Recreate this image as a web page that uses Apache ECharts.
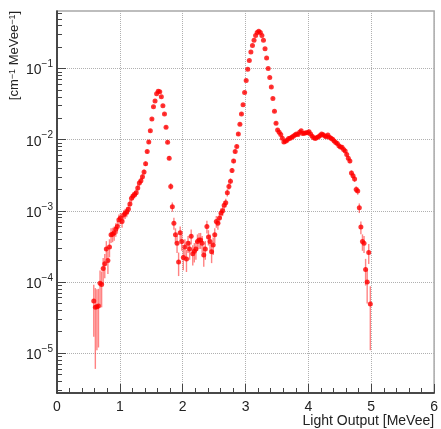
<!DOCTYPE html>
<html>
<head>
<meta charset="utf-8">
<script src="https://cdn.jsdelivr.net/npm/echarts@6/dist/echarts.min.js"></script>
<style>
  html, body { margin: 0; padding: 0; background: #fff; }
  #chart { width: 441px; height: 429px; }
</style>
</head>
<body>
<div id="chart"></div>
<script>
// histogram bins in MeVee
const binStart = 0.585;
const binWidth = 0.025;

// rate per bin [cm^-1 MeVee^-1]
const rate = [
  5.4e-5, 4.4e-5, 4.5e-5, 4.6e-5, 9.6e-5, 9.2e-5, 1.55e-4, 1.8e-4, 2.9e-4, 2.0e-4,
  3.1e-4, 4.6e-4, 4.7e-4, 4.9e-4, 5.5e-4, 6.0e-4, 7.5e-4, 7.9e-4, 7.1e-4, 8.7e-4,
  9.2e-4, 9.7e-4, 1.05e-3, 1.25e-3, 1.5e-3, 1.62e-3, 1.7e-3, 1.8e-3, 2.1e-3, 2.45e-3,
  2.65e-3, 3.0e-3, 3.5e-3, 4.6e-3, 6.8e-3, 9.3e-3, 1.33e-2, 1.95e-2, 2.9e-2, 3.5e-2,
  4.4e-2, 4.8e-2, 4.7e-2, 4.0e-2, 3.0e-2, 2.3e-2, 1.5e-2, 9.2e-3, 5.5e-3, 2.2e-3,
  1.14e-3, 6.7e-4, 4.6e-4, 3.5e-4, 1.9e-4, 4.9e-4, 3.7e-4, 2.2e-4, 3.1e-4, 2.1e-4,
  3.5e-4, 2.9e-4, 4.4e-4, 2.5e-4, 2.7e-4, 2.9e-4, 3.7e-4, 3.9e-4, 3.9e-4, 3.5e-4,
  2.4e-4, 2.9e-4, 6.0e-4, 4.3e-4, 3.7e-4, 2.65e-4, 3.3e-4, 4.6e-4, 7.1e-4, 6.7e-4,
  7.9e-4, 9.3e-4, 1.0e-3, 1.2e-3, 1.3e-3, 1.8e-3, 2.2e-3, 2.6e-3, 3.7e-3, 5.0e-3,
  6.8e-3, 8.0e-3, 1.2e-2, 1.65e-2, 2.3e-2, 3.1e-2, 4.6e-2, 6.8e-2, 9.8e-2, 0.13,
  0.17, 0.21, 0.25, 0.29, 0.32, 0.335, 0.32, 0.29, 0.25, 0.19,
  0.14, 0.1, 0.075, 0.055, 0.038, 0.025, 0.017, 0.0137, 0.0127, 0.0118,
  0.0105, 0.0093, 0.0095, 0.0098, 0.0104, 0.0105, 0.0108, 0.0112, 0.0116, 0.012,
  0.0118, 0.0127, 0.0133, 0.0122, 0.0123, 0.0125, 0.0125, 0.0129, 0.012, 0.0112,
  0.0106, 0.0104, 0.0107, 0.011, 0.0114, 0.012, 0.0117, 0.0113, 0.011, 0.0116,
  0.0108, 0.0105, 0.0101, 0.0096, 0.0091, 0.0088, 0.0082, 0.0079, 0.0078, 0.0073,
  0.0069, 0.0062, 0.0055, 0.005, 0.0034, 0.0031, 0.0028, 0.002, 0.0019, 0.0011,
  5.9e-4, 3.7e-4, 3.5e-4, 1.5e-4, 1.0e-4, 2.6e-4, 4.9e-5
];

// statistical error per bin
const rateErr = [
  3.7e-5, 3.8e-5, 3.4e-5, 3.4e-5, 4.9e-5, 4.8e-5, 6.2e-5, 6.7e-5, 8.5e-5, 7.1e-5,
  8.8e-5, 1.07e-4, 1.08e-4, 1.1e-4, 1.17e-4, 1.22e-4, 1.37e-4, 1.4e-4, 1.33e-4, 1.47e-4,
  1.52e-4, 1.56e-4, 1.62e-4, 1.77e-4, 1.94e-4, 2.0e-4, 2.06e-4, 2.12e-4, 2.3e-4, 2.5e-4,
  2.6e-4, 2.7e-4, 3.0e-4, 3.4e-4, 4.1e-4, 4.8e-4, 5.8e-4, 7.0e-4, 8.5e-4, 9.4e-4,
  1.05e-3, 1.1e-3, 1.08e-3, 1.0e-3, 8.7e-4, 7.6e-4, 6.1e-4, 4.8e-4, 3.7e-4, 2.3e-4,
  1.7e-4, 1.3e-4, 1.07e-4, 9.4e-5, 6.9e-5, 1.1e-4, 9.6e-5, 7.4e-5, 8.8e-5, 7.2e-5,
  9.4e-5, 8.5e-5, 1.05e-4, 7.9e-5, 8.2e-5, 8.5e-5, 9.6e-5, 9.9e-5, 9.9e-5, 9.4e-5,
  7.7e-5, 8.5e-5, 1.22e-4, 1.04e-4, 9.6e-5, 8.1e-5, 9.1e-5, 1.07e-4, 1.33e-4, 1.3e-4,
  1.4e-4, 1.52e-4, 1.58e-4, 1.73e-4, 1.8e-4, 2.12e-4, 2.3e-4, 2.55e-4, 3.0e-4, 3.5e-4,
  4.1e-4, 4.5e-4, 5.5e-4, 6.4e-4, 7.6e-4, 8.8e-4, 1.07e-3, 1.3e-3, 1.57e-3, 1.8e-3,
  2.1e-3, 2.3e-3, 2.5e-3, 2.7e-3, 2.8e-3, 2.9e-3, 2.8e-3, 2.7e-3, 2.5e-3, 2.2e-3,
  1.9e-3, 1.6e-3, 1.4e-3, 1.2e-3, 9.7e-4, 7.9e-4, 6.5e-4, 5.9e-4, 5.6e-4, 5.4e-4,
  5.1e-4, 4.8e-4, 4.9e-4, 4.9e-4, 5.1e-4, 5.1e-4, 5.2e-4, 5.3e-4, 5.4e-4, 5.5e-4,
  5.4e-4, 5.6e-4, 5.8e-4, 5.5e-4, 5.5e-4, 5.6e-4, 5.6e-4, 5.7e-4, 5.5e-4, 5.3e-4,
  5.1e-4, 5.1e-4, 5.2e-4, 5.2e-4, 5.3e-4, 5.5e-4, 5.4e-4, 5.3e-4, 5.2e-4, 5.4e-4,
  5.2e-4, 5.1e-4, 5.0e-4, 4.9e-4, 4.8e-4, 4.7e-4, 4.5e-4, 4.4e-4, 4.4e-4, 4.3e-4,
  4.2e-4, 3.9e-4, 3.7e-4, 3.5e-4, 2.9e-4, 2.8e-4, 2.6e-4, 2.2e-4, 2.2e-4, 1.7e-4,
  1.2e-4, 9.6e-5, 9.4e-5, 6.1e-5, 5.0e-5, 8.1e-5, 3.8e-5
];

// axis ticks
const yMin = 2.75e-6;
const yMax = 0.643;
const yDecades = [1e-6, 1e-5, 1e-4, 1e-3, 1e-2, 1e-1];
const yMinorSteps = [2, 3, 4, 5, 6, 7, 8, 9];

const yMajor = yDecades.filter(v => v >= yMin && v <= yMax);
const yMinor = [];
yDecades.forEach(d => yMinorSteps.forEach(m => {
  const v = d * m;
  if (v > yMin && v < yMax) yMinor.push(v);
}));

const energies = rate.map((_, i) => +(binStart + i * binWidth).toFixed(4));

const FONT = 'Liberation Sans, Arial, Helvetica, sans-serif';
const gridLine = { show: true, lineStyle: { color: '#b0b0b0', type: 'dotted', width: 1 } };

const chart = echarts.init(document.getElementById('chart'), null, { renderer: 'canvas' });

chart.setOption({
  animation: false,
  backgroundColor: '#fff',
  textStyle: { fontFamily: FONT },
  grid: {
    left: 57, right: 3, top: 11, bottom: 36,
    show: true, borderColor: '#a8a8a8', borderWidth: 1.5
  },
  xAxis: {
    type: 'value',
    min: 0,
    max: 6,
    interval: 1,
    name: 'Light Output [MeVee]',
    nameLocation: 'end',
    nameGap: 0,
    nameTextStyle: {
      fontSize: 14, color: '#222', fontFamily: FONT,
      align: 'right', verticalAlign: 'top', padding: [21, 0, 0, 0]
    },
    axisLine: { onZero: false, lineStyle: { color: '#222', width: 1.5 } },
    axisTick: { inside: true, length: 9, lineStyle: { color: '#444' } },
    minorTick: { show: true, splitNumber: 5, length: 5, lineStyle: { color: '#444' } },
    axisLabel: { fontSize: 14, color: '#222', margin: 7, fontFamily: FONT },
    splitLine: gridLine
  },
  yAxis: [
    {
      type: 'log',
      logBase: 10,
      min: yMin,
      max: yMax,
      name: '[cm{s|−1} MeVee{s|−1}]',
      nameLocation: 'end',
      nameRotate: 90,
      nameGap: 0,
      nameTextStyle: {
        fontSize: 13, color: '#222', fontFamily: FONT,
        align: 'right', verticalAlign: 'bottom', padding: [0, 0, 36, 0],
        rich: {
          s: { fontSize: 9, color: '#222', fontFamily: FONT, lineHeight: 9, verticalAlign: 'top' }
        }
      },
      axisLine: { show: true, lineStyle: { color: '#222', width: 1.5 } },
      axisTick: { inside: true, length: 9, customValues: yMajor, lineStyle: { color: '#444' } },
      axisLabel: {
        customValues: yMajor,
        margin: 4,
        formatter: v => '{b|10}{e|−' + (-Math.round(Math.log10(v))) + '}',
        rich: {
          b: { fontSize: 14, color: '#222', fontFamily: FONT, lineHeight: 18, verticalAlign: 'bottom' },
          e: { fontSize: 10, color: '#222', fontFamily: FONT, lineHeight: 12, verticalAlign: 'top' }
        }
      },
      splitLine: gridLine
    },
    {
      // minor log ticks only
      type: 'log',
      logBase: 10,
      min: yMin,
      max: yMax,
      position: 'left',
      axisLine: { show: false },
      axisTick: { inside: true, length: 5, customValues: yMinor, lineStyle: { color: '#444' } },
      axisLabel: { show: false },
      splitLine: { show: false }
    }
  ],
  series: [
    {
      type: 'custom',
      yAxisIndex: 0,
      clip: true,
      z: 1,
      encode: { x: 0, y: [1, 2] },
      data: energies.map((e, i) => [e, rate[i] - rateErr[i], rate[i] + rateErr[i]]),
      renderItem(params, api) {
        const lo = api.coord([api.value(0), api.value(1)]);
        const hi = api.coord([api.value(0), api.value(2)]);
        return {
          type: 'line',
          shape: { x1: lo[0], y1: lo[1], x2: hi[0], y2: hi[1] },
          style: { stroke: 'rgba(255,30,30,0.55)', lineWidth: 1.4 }
        };
      }
    },
    {
      type: 'scatter',
      yAxisIndex: 0,
      z: 2,
      symbol: 'circle',
      symbolSize: 5,
      itemStyle: { color: '#ff0000' },
      data: energies.map((e, i) => [e, rate[i]])
    }
  ]
});
</script>
</body>
</html>
